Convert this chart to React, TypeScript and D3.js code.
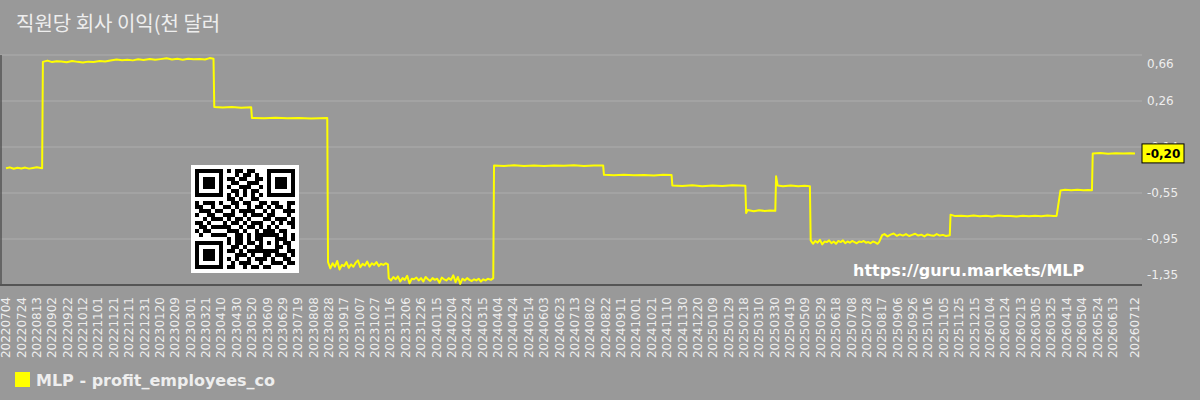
import React from "react";
import * as d3 from "d3";

const TITLE = "직원당 회사 이익(천 달러";
const LEGEND = "MLP - profit_employees_co";
const WATERMARK = "https://guru.markets/MLP";

const dates: string[] = [
  "2022-07-04","2022-07-09","2022-07-14","2022-07-19","2022-07-24","2022-07-29","2022-08-03","2022-08-08","2022-08-13","2022-08-20",
  "2022-08-21","2022-08-27","2022-09-02","2022-09-08","2022-09-14","2022-09-21","2022-09-28","2022-10-05","2022-10-12","2022-10-19",
  "2022-10-26","2022-11-03","2022-11-10","2022-11-17","2022-11-25","2022-12-02","2022-12-09","2022-12-16","2022-12-23","2022-12-30",
  "2023-01-07","2023-01-14","2023-01-21","2023-01-29","2023-02-05","2023-02-12","2023-02-19","2023-02-26","2023-03-05","2023-03-13",
  "2023-03-20","2023-03-26","2023-03-31",
  "2023-04-01","2023-04-12","2023-04-24","2023-05-06","2023-05-19",
  "2023-05-20","2023-06-05","2023-06-20","2023-07-05","2023-07-20","2023-08-05","2023-08-26",
  "2023-08-27","2023-08-30","2023-09-02","2023-09-05","2023-09-08","2023-09-11","2023-09-14","2023-09-17","2023-09-20","2023-09-23",
  "2023-09-26","2023-09-29","2023-10-02","2023-10-05","2023-10-08","2023-10-11","2023-10-14","2023-10-17","2023-10-20","2023-10-23",
  "2023-10-26","2023-10-29","2023-11-01","2023-11-04","2023-11-07","2023-11-10","2023-11-13",
  "2023-11-14","2023-11-17","2023-11-20","2023-11-23","2023-11-26","2023-11-29","2023-12-02","2023-12-05","2023-12-08","2023-12-11",
  "2023-12-14","2023-12-17","2023-12-20","2023-12-23","2023-12-26","2023-12-29","2024-01-01","2024-01-04","2024-01-07","2024-01-10",
  "2024-01-13","2024-01-16","2024-01-19","2024-01-22","2024-01-25","2024-01-28","2024-01-31","2024-02-03","2024-02-06","2024-02-09",
  "2024-02-12","2024-02-15","2024-02-18","2024-02-21","2024-02-24","2024-02-27","2024-03-01","2024-03-04","2024-03-07","2024-03-10",
  "2024-03-13","2024-03-16","2024-03-19","2024-03-22","2024-03-26","2024-03-29",
  "2024-03-30","2024-04-12","2024-04-25","2024-05-08","2024-05-21","2024-06-03","2024-06-16","2024-06-29","2024-07-12","2024-07-25",
  "2024-08-07","2024-08-19",
  "2024-08-20","2024-09-02","2024-09-15","2024-09-28","2024-10-11","2024-10-24","2024-11-05","2024-11-16",
  "2024-11-17","2024-11-30","2024-12-13","2024-12-26","2025-01-08","2025-01-21","2025-02-03","2025-02-20",
  "2025-02-21","2025-02-23","2025-03-03","2025-03-10","2025-03-17","2025-03-24","2025-03-31",
  "2025-04-01","2025-04-03","2025-04-10","2025-04-20","2025-04-30","2025-05-08","2025-05-15",
  "2025-05-16","2025-05-19","2025-05-22","2025-05-25","2025-05-28","2025-05-31","2025-06-03","2025-06-06","2025-06-09","2025-06-12",
  "2025-06-15","2025-06-18","2025-06-21","2025-06-24","2025-06-27","2025-06-30","2025-07-03","2025-07-06","2025-07-09","2025-07-12",
  "2025-07-15","2025-07-18","2025-07-21","2025-07-24","2025-07-27","2025-07-30","2025-08-02","2025-08-05","2025-08-08","2025-08-11",
  "2025-08-13",
  "2025-08-17","2025-08-20","2025-08-24","2025-08-28","2025-09-01","2025-09-05","2025-09-09","2025-09-13","2025-09-17","2025-09-21",
  "2025-09-25","2025-09-29","2025-10-03","2025-10-07","2025-10-11","2025-10-15","2025-10-19","2025-10-23","2025-10-27","2025-10-31",
  "2025-11-04","2025-11-08","2025-11-13",
  "2025-11-14","2025-11-20","2025-11-28","2025-12-06","2025-12-14","2025-12-22","2025-12-30","2026-01-07","2026-01-15","2026-01-23",
  "2026-01-31","2026-02-08","2026-02-16","2026-02-24","2026-03-04","2026-03-12","2026-03-20","2026-03-28","2026-04-01",
  "2026-04-06","2026-04-12","2026-04-20","2026-04-28","2026-05-06","2026-05-12","2026-05-17",
  "2026-05-18","2026-05-28","2026-06-07","2026-06-17","2026-06-27","2026-07-05","2026-07-12",
];

const values: number[] = [
  -0.330,-0.322,-0.334,-0.326,-0.331,-0.324,-0.333,-0.327,-0.321,-0.330,
  0.600,0.611,0.598,0.606,0.603,0.597,0.608,0.600,0.594,0.602,
  0.599,0.607,0.603,0.612,0.621,0.614,0.619,0.613,0.622,0.617,
  0.626,0.618,0.624,0.631,0.620,0.627,0.619,0.628,0.622,0.626,
  0.621,0.633,0.627,
  0.205,0.201,0.206,0.200,0.204,
  0.110,0.107,0.111,0.108,0.110,0.106,0.109,
  -1.150,-1.205,-1.160,-1.190,-1.140,-1.215,-1.175,-1.185,-1.150,-1.200,
  -1.170,-1.190,-1.155,-1.135,-1.195,-1.165,-1.180,-1.145,-1.190,-1.160,
  -1.175,-1.150,-1.185,-1.165,-1.175,-1.160,-1.170,
  -1.290,-1.310,-1.280,-1.300,-1.275,-1.320,-1.290,-1.305,-1.270,-1.335,
  -1.295,-1.300,-1.285,-1.310,-1.290,-1.320,-1.280,-1.300,-1.315,-1.290,
  -1.305,-1.295,-1.330,-1.285,-1.300,-1.310,-1.290,-1.305,-1.265,-1.325,
  -1.280,-1.340,-1.295,-1.310,-1.290,-1.305,-1.315,-1.300,-1.310,-1.295,
  -1.320,-1.300,-1.310,-1.295,-1.305,-1.290,
  -0.305,-0.309,-0.304,-0.310,-0.306,-0.309,-0.305,-0.308,-0.304,-0.309,
  -0.306,-0.305,
  -0.387,-0.391,-0.386,-0.390,-0.388,-0.392,-0.387,-0.389,
  -0.480,-0.485,-0.479,-0.486,-0.481,-0.484,-0.478,-0.483,
  -0.720,-0.695,-0.705,-0.696,-0.703,-0.698,-0.702,
  -0.400,-0.480,-0.487,-0.481,-0.486,-0.483,-0.487,
  -0.960,-0.990,-0.965,-0.980,-0.955,-0.995,-0.970,-0.975,-0.960,-0.985,
  -0.970,-0.990,-0.965,-0.975,-0.960,-0.985,-0.970,-0.980,-0.965,-0.975,
  -0.985,-0.970,-0.975,-0.965,-0.980,-0.975,-0.985,-0.970,-0.978,-0.990,
  -0.975,
  -0.915,-0.905,-0.925,-0.910,-0.900,-0.920,-0.908,-0.918,-0.905,-0.922,
  -0.912,-0.902,-0.918,-0.910,-0.925,-0.908,-0.915,-0.920,-0.905,-0.918,
  -0.912,-0.922,-0.915,
  -0.735,-0.748,-0.744,-0.750,-0.742,-0.749,-0.745,-0.751,-0.743,-0.748,
  -0.746,-0.752,-0.744,-0.749,-0.745,-0.750,-0.743,-0.748,-0.746,
  -0.525,-0.518,-0.522,-0.517,-0.523,-0.519,-0.521,
  -0.200,-0.197,-0.202,-0.198,-0.201,-0.199,-0.200,
];

const yDomain: [number, number] = [-1.35, 0.66];
const yTickCount = 6;
const xTickStart = "2022-07-04";
const xTickStepDays = 20;
const xTickLast = "2026-07-12";
const lastValue = -0.2;

const QR: string[] = [
  "1111111010110110001111111",
  "1000001000101101001000001",
  "1011101011011001101011101",
  "1011101001100111001011101",
  "1011101010011100101011101",
  "1000001001101011001000001",
  "1111111010101010101111111",
  "0000000011010011000000000",
  "1011101001101100110110011",
  "1100100110100101101011010",
  "0111011001011110010100111",
  "1001100111001011101100010",
  "0010111010110100011011101",
  "1101000101101011100101011",
  "0110111110010110101010001",
  "1011000011101001011101100",
  "0100111100110101111110101",
  "0000000010110101100011101",
  "1111111010110110101010110",
  "1000001001101001100011010",
  "1011101011010111111110011",
  "1011101000111010011011101",
  "1011101010100101110100110",
  "1000001001011100100111011",
  "1111111011001011011000100",
];

const parse = d3.utcParse("%Y-%m-%d");
const fmt = (v: number) => v.toFixed(2).replace(".", ",");
const fmtDate = d3.utcFormat("%Y%m%d");

export default function App() {
  const W = 1200, H = 400;
  const plotLeft = 0, plotRight = 1142, plotTop = 55, plotBottom = 285;
  const data = dates.map((d, i) => ({ date: parse(d) as Date, value: values[i] }));
  const x = d3.scaleUtc().domain([parse(xTickStart) as Date, parse(xTickLast) as Date]).range([6, 1135]);
  const y = d3.scaleLinear().domain(yDomain).range([plotBottom, plotTop]);
  const yTicks = d3.range(yTickCount).map((i) => yDomain[1] - (i * (yDomain[1] - yDomain[0])) / (yTickCount - 1));
  const start = parse(xTickStart) as Date;
  const last = parse(xTickLast) as Date;
  const xTicks: Date[] = d3.utcDay.range(start, last, 1).filter((_, i) => i % xTickStepDays === 0);
  const lastGap = x(last) - x(xTicks[xTicks.length - 1]);
  if (lastGap > 10) xTicks.push(last);
  else xTicks[xTicks.length - 1] = last;
  const line = d3.line<{ date: Date; value: number }>().x((d) => x(d.date)).y((d) => y(d.value));
  const font = "DejaVu Sans, sans-serif";
  const txt = "#eeeeee";
  const qrX = 191, qrY = 165, mod = 4;

  return (
    <svg width={W} height={H} style={{ position: "absolute", left: 0, top: 0 }} xmlns="http://www.w3.org/2000/svg">
      <rect x={0} y={0} width={W} height={H} fill="#999999" />
      <text x={16} y={31} fontFamily="'Noto Sans CJK KR', sans-serif" fontSize={20} fill={txt}>{TITLE}</text>
      {yTicks.slice(0, yTicks.length - 1).map((t, i) => (
        <line key={"g" + i} x1={plotLeft} x2={plotRight} y1={y(t)} y2={y(t)} stroke="#a7a7a7" strokeWidth={1.5} />
      ))}
      <line x1={1} x2={1} y1={plotTop} y2={plotBottom} stroke="#555555" strokeWidth={1.5} />
      <line x1={plotLeft} x2={plotRight} y1={plotBottom} y2={plotBottom} stroke="#555555" strokeWidth={2} />
      {yTicks.map((t, i) => (
        <text key={"yt" + i} x={1147} y={y(t) + (i === 0 ? 9 : i === yTicks.length - 1 ? -10 : 0)} dy="0.35em"
          fontFamily={font} fontSize={12} fill={txt}>{fmt(t)}</text>
      ))}
      {xTicks.map((t, i) => (
        <text key={"xt" + i} transform={`translate(${x(t)},${297}) rotate(-90)`} textAnchor="end" dy="0.35em"
          fontFamily={font} fontSize={12} fill={txt}>{fmtDate(t)}</text>
      ))}
      <rect x={qrX} y={qrY} width={108} height={108} fill="#ffffff" />
      {QR.map((row, r) =>
        row.split("").map((c, ci) =>
          c === "1" ? (
            <rect key={`q${r}-${ci}`} x={qrX + mod + ci * mod} y={qrY + mod + r * mod} width={mod} height={mod} fill="#000000" />
          ) : null
        )
      )}
      <path d={line(data) || ""} fill="none" stroke="#ffff00" strokeWidth={2} strokeLinejoin="round" />
      <text x={853} y={276} fontFamily={font} fontWeight="bold" fontSize={16} fill="#ffffff">{WATERMARK}</text>
      <rect x={1142} y={y(lastValue) - 9.5} width={42} height={19} fill="#ffff00" stroke="#000000" strokeWidth={1} />
      <text x={1163} y={y(lastValue)} dy="0.35em" textAnchor="middle" fontFamily={font} fontWeight="bold" fontSize={12} fill="#000000">{fmt(lastValue)}</text>
      <rect x={15} y={372} width={15} height={15} fill="#ffff00" />
      <text x={36} y={386} fontFamily={font} fontWeight="bold" fontSize={16} fill={txt}>{LEGEND}</text>
    </svg>
  );
}
